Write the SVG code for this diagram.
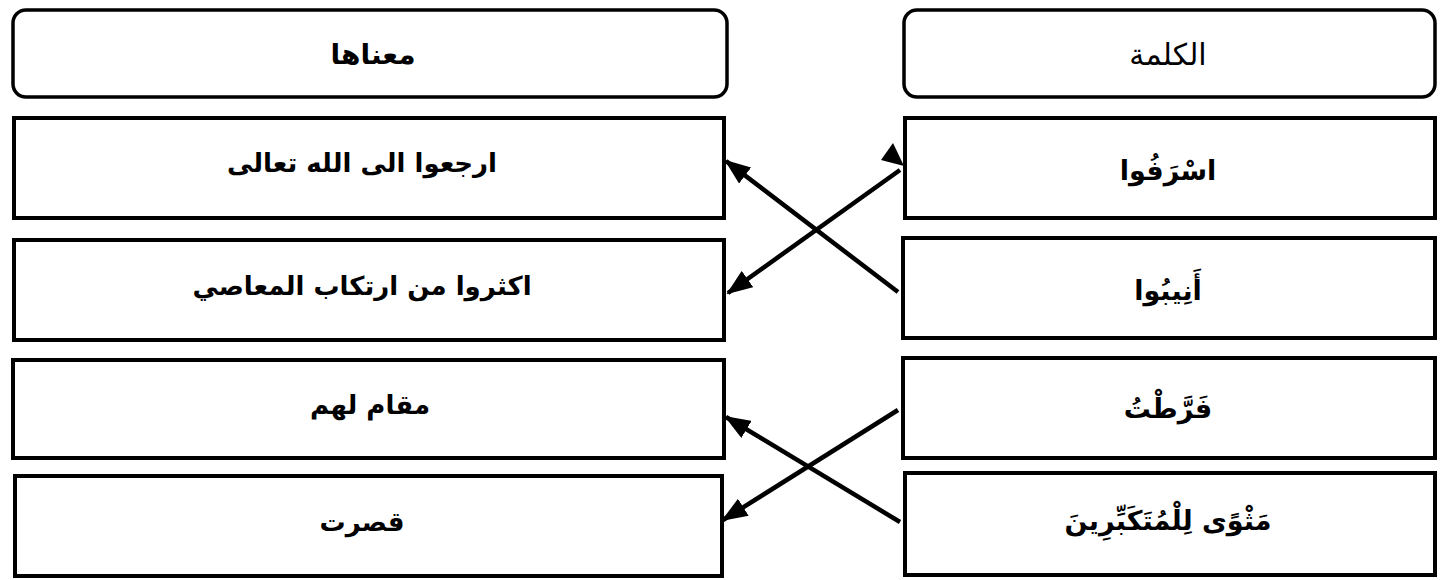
<svg xmlns="http://www.w3.org/2000/svg" width="1445" height="580" viewBox="0 0 1445 580">
<style>
.hdr{fill:#fff;stroke:#000;stroke-width:3.5}
.box{fill:#fff;stroke:#000;stroke-width:4}
.t{font-family:"DejaVu Sans",sans-serif;font-weight:bold;font-size:26px;text-anchor:middle;dominant-baseline:central;fill:#000}
.w{font-family:"DejaVu Sans",sans-serif;font-weight:bold;font-size:27px;text-anchor:middle;dominant-baseline:central;fill:#000}
.c{stroke:#000;stroke-width:4.5;fill:none;marker-end:url(#ah)}
</style>
<defs>
<marker id="ah" markerUnits="userSpaceOnUse" markerWidth="26" markerHeight="20" refX="24" refY="10" orient="auto">
<path d="M0,0 L26,10 L0,20 Z" fill="#000"/>
</marker>
</defs>
<rect width="1445" height="580" fill="#fff"/>
<g id="hdr-meaning"><rect class="hdr" x="13" y="10" width="714" height="87" rx="13"/><text class="t" x="373" y="54" direction="rtl" style="font-size:28px">معناها</text></g>
<g id="hdr-word"><rect class="hdr" x="904" y="10" width="531" height="87" rx="13"/><text class="w" x="1168" y="54" direction="rtl" style="font-weight:normal;font-size:30px">الكلمة</text></g>
<g id="m1"><rect class="box" x="14" y="118" width="710" height="100"/><text class="t" x="362" y="163" direction="rtl">ارجعوا الى الله تعالى</text></g>
<g id="m2"><rect class="box" x="14" y="240" width="710" height="100"/><text class="t" x="362" y="286" direction="rtl">اكثروا من ارتكاب المعاصي</text></g>
<g id="m3"><rect class="box" x="13" y="360" width="711" height="98"/><text class="t" x="370" y="405" direction="rtl">مقام لهم</text></g>
<g id="m4"><rect class="box" x="15" y="476" width="707" height="100"/><text class="t" x="362" y="522" direction="rtl">قصرت</text></g>
<g id="w1"><rect class="box" x="905" y="118" width="530" height="100"/><text class="w" x="1168" y="170" direction="rtl">اسْرَفُوا</text></g>
<g id="w2"><rect class="box" x="903" y="238" width="532" height="100"/><text class="w" x="1168" y="290" direction="rtl">أَنِيبُوا</text></g>
<g id="w3"><rect class="box" x="903" y="358" width="532" height="100"/><text class="w" x="1168" y="408" direction="rtl">فَرَّطْتُ</text></g>
<g id="w4"><rect class="box" x="905" y="473" width="530" height="102"/><text class="w" x="1168" y="520" direction="rtl">مَثْوًى لِلْمُتَكَبِّرِينَ</text></g>
<g id="connectors">
<line class="c" x1="898" y1="292" x2="726" y2="161"/>
<line class="c" x1="900" y1="170" x2="728" y2="293"/>
<line class="c" x1="898" y1="410" x2="723" y2="520"/>
<line class="c" x1="900" y1="522" x2="726" y2="417"/>
<path d="M893,143 L904,166 L881,160 Z" fill="#000"/>
</g>
</svg>
